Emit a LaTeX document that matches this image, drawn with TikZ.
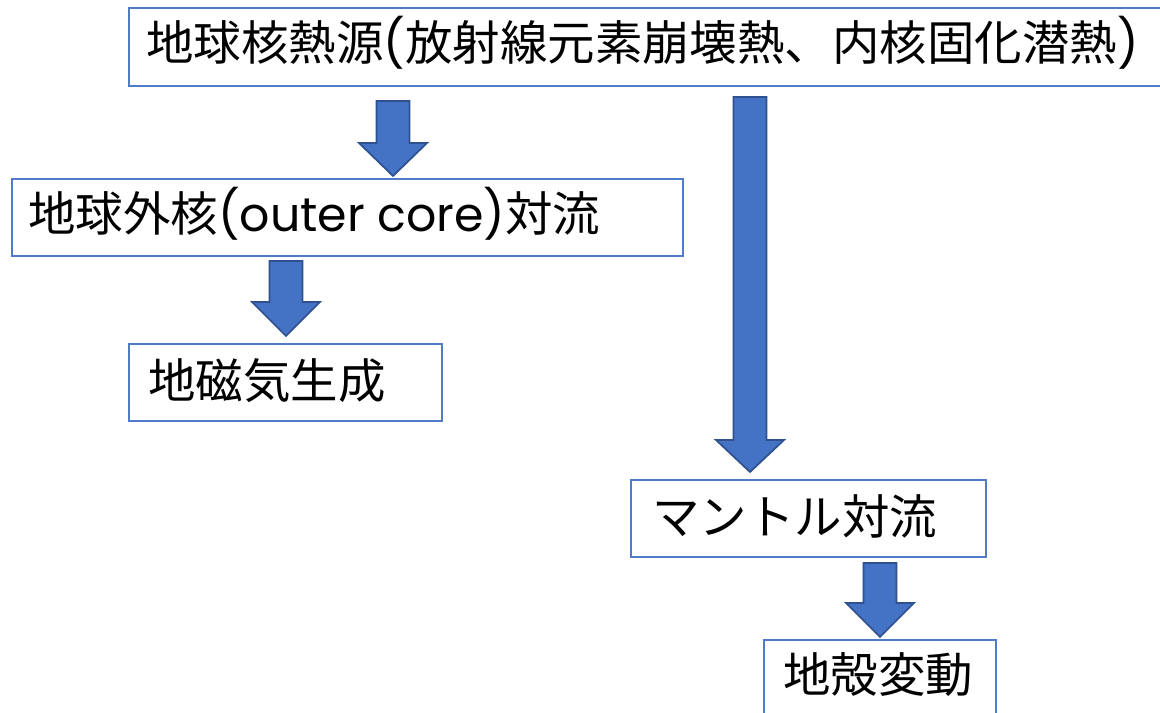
\documentclass[tikz,border=0pt]{standalone}
\usepackage{fontspec}
\setmainfont{Noto Sans CJK JP}
\newfontfamily\latinf{Poppins}
\definecolor{boxblue}{HTML}{4F7BC8}
\definecolor{arrfill}{HTML}{4472C4}
\definecolor{arrline}{HTML}{2F528F}
\newcommand\blockarrow[4]{%
  \draw[barrow] ({#1-16.5},#2) -- ({#1+16.5},#2) -- ({#1+16.5},#3) -- ({#1+34},#3)
    -- (#1,#4) -- ({#1-34},#3) -- ({#1-16.5},#3) -- cycle;}
\begin{document}
\begin{tikzpicture}[x=0.75pt,y=-0.75pt,
  box/.style={draw=boxblue,line width=1.2pt,fill=white},
  lbl/.style={anchor=base west,inner sep=0pt,font=\fontsize{35.6}{40}\selectfont},
  barrow/.style={fill=arrfill,draw=arrline,line width=1.3pt,line join=miter}]
\clip (0,0) rectangle (1160,713);
\fill[white] (0,0) rectangle (1160,713);
% boxes
\draw[box] (129,8) rectangle (1166,86);
\draw[box] (12,179) rectangle (683,256);
\draw[box] (129,344) rectangle (442,421);
\draw[box] (631,480) rectangle (986,557);
\draw[box] (764,640) rectangle (996,718);
% labels
\node[lbl] (src) at (146,61) {地球核熱源{\latinf(}放射線元素崩壊熱、内核固化潜熱{\latinf)}};
\node[lbl] (outer) at (28,232) {地球外核{\latinf(outer core)}対流};
\node[lbl] (geo) at (148,398) {地磁気生成};
\node[lbl] (mantle) at (652,534) {マントル対流};
\node[lbl] (crust) at (783,692) {地殻変動};
% arrows
\blockarrow{393}{101}{143}{176}
\blockarrow{286}{261}{302}{336}
\blockarrow{750}{97}{440}{472}
\blockarrow{880}{563}{603}{637}
\end{tikzpicture}
\end{document}
